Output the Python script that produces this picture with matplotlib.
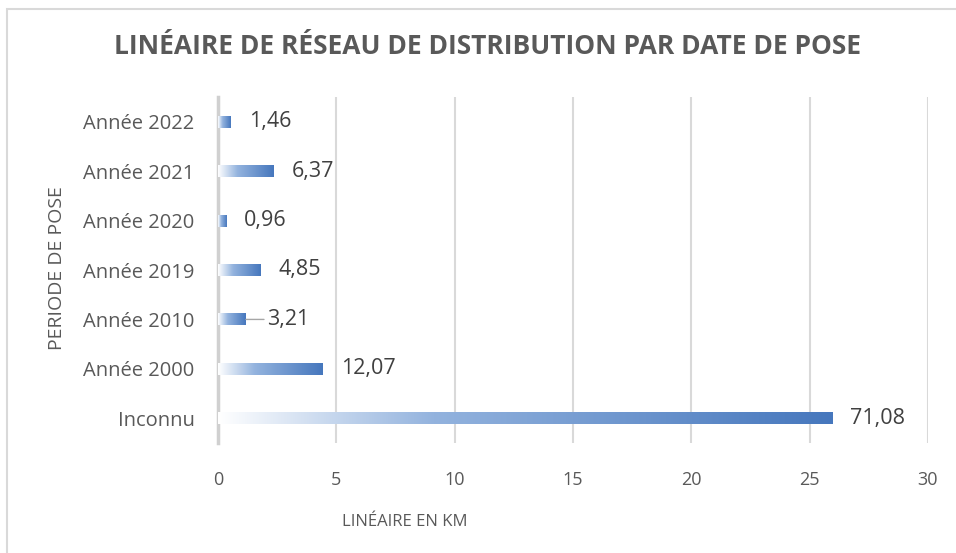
import matplotlib
matplotlib.use("Agg")
import matplotlib.pyplot as plt
import numpy as np
from matplotlib.colors import LinearSegmentedColormap
from matplotlib.patches import Rectangle

categories = ["Inconnu", "Année 2000", "Année 2010", "Année 2019", "Année 2020", "Année 2021", "Année 2022"]
bar_values = [25.95, 4.42, 1.18, 1.78, 0.35, 2.34, 0.54]
label_values = ["71,08", "12,07", "3,21", "4,85", "0,96", "6,37", "1,46"]
xticks = [0, 5, 10, 15, 20, 25, 30]

W, H = 956, 553
plt.rcParams['font.family'] = ['Open Sans', 'DejaVu Sans']
fig = plt.figure(figsize=(W/100, H/100), dpi=100)
TXT = "#595959"

# chart border
fig.patches.append(Rectangle((7/W, -0.1), 1.2, 1.1 - 9/H, transform=fig.transFigure,
                             fill=False, edgecolor="#d9d9d9", linewidth=1.5))

ax = fig.add_axes([218/W, 1-443/H, (928-218)/W, (443-97)/H])
cmap = LinearSegmentedColormap.from_list("g", [(0, "#ffffff"), (0.35, "#93b3de"), (1, "#4677bd")])
grad = np.linspace(0, 1, 256).reshape(1, -1)
bh = 0.24
ys = np.arange(len(categories))
for y, v, lab in zip(ys, bar_values, label_values):
    ax.imshow(grad, extent=[0, v, y - bh/2, y + bh/2], cmap=cmap, aspect='auto', zorder=3,
              interpolation='bicubic')
    if lab == "3,21":
        ax.annotate(lab, xy=(v, y), xytext=(15, 0), textcoords='offset points',
                    va='center', ha='left', fontsize=15.5, color="#404040",
                    arrowprops=dict(arrowstyle='-', color='#a6a6a6', lw=1, shrinkA=0, shrinkB=0))
    else:
        ax.annotate(lab, xy=(v, y), xytext=(13, 0), textcoords='offset points',
                    va='center', ha='left', fontsize=15.5, color="#404040")

ax.set_xlim(0, 30)
ax.set_ylim(-0.5, len(categories) - 0.5)
ax.set_xticks(xticks)
ax.set_xticklabels([str(t) for t in xticks], fontsize=13, color=TXT)
ax.set_yticks(ys)
ax.set_yticklabels(categories, fontsize=14.5, color=TXT)
ax.grid(axis='x', color='#d9d9d9', linewidth=1.5, zorder=0)
ax.set_axisbelow(True)
for s in ['top', 'right', 'bottom']:
    ax.spines[s].set_visible(False)
ax.spines['left'].set_color('#d0d0d0')
ax.spines['left'].set_linewidth(2.5)
ax.tick_params(axis='x', length=0, pad=20)
ax.tick_params(axis='y', length=0, pad=17)

fig.text(487/W, 1-47/H, "LINÉAIRE DE RÉSEAU DE DISTRIBUTION PAR DATE DE POSE",
         ha='center', va='center', fontsize=19, fontweight='bold', color=TXT)
fig.text(405/W, 1-522/H, "LINÉAIRE EN KM", ha='center', va='center', fontsize=12, color=TXT)
fig.text(57/W, 1-268/H, "PERIODE DE POSE", ha='center', va='center', rotation=90,
         fontsize=14, color=TXT)

fig.savefig("out.png", dpi=100)
